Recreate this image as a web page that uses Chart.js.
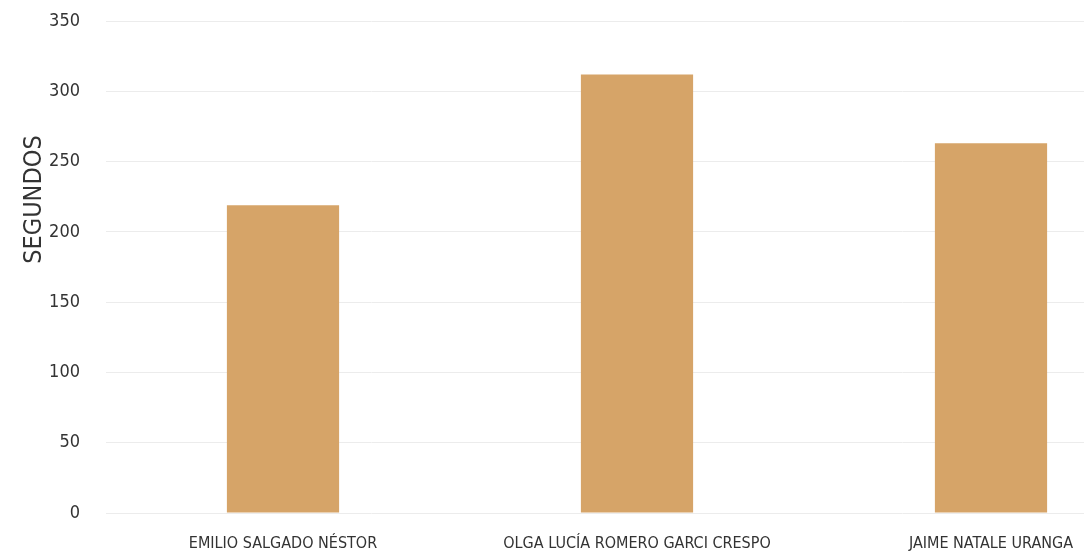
<!DOCTYPE html>
<html>
<head>
<meta charset="utf-8">
<script src="https://cdn.jsdelivr.net/npm/chart.js@4"></script>
<style>
html,body{margin:0;padding:0;background:#fff;overflow:hidden;width:1084px;height:558px;}
canvas{display:block;}
</style>
</head>
<body>
<canvas id="c" width="1170" height="558"></canvas>
<script>
const categories = ["EMILIO SALGADO NÉSTOR", "OLGA LUCÍA ROMERO GARCI CRESPO", "JAIME NATALE URANGA"];
const seconds = [219, 312, 263];
const yTicks = [0, 50, 100, 150, 200, 250, 300, 350];
const yTitle = "SEGUNDOS";

const FONT = "'Liberation Sans Narrow', 'DejaVu Sans Condensed', 'Liberation Sans', sans-serif";

// The reference places the axis title above the axis centre; draw it there.
const offsetTitle = {
  id: 'offsetTitle',
  afterDraw(chart) {
    const ctx = chart.ctx;
    const y = chart.scales.y;
    ctx.save();
    ctx.translate(34, y.getPixelForValue(223));
    ctx.rotate(-Math.PI / 2);
    ctx.font = "25px " + FONT;
    ctx.fillStyle = '#333';
    ctx.textAlign = 'center';
    ctx.textBaseline = 'middle';
    ctx.fillText(yTitle, 0, 0);
    ctx.restore();
  }
};

new Chart(document.getElementById('c'), {
  type: 'bar',
  data: {
    labels: categories,
    datasets: [{
      data: seconds,
      backgroundColor: '#D6A468',
      barPercentage: 0.317,
      categoryPercentage: 1
    }]
  },
  options: {
    responsive: false,
    animation: false,
    layout: { padding: { top: 21, left: 0, right: 2, bottom: 0 } },
    plugins: { legend: { display: false }, tooltip: { enabled: false } },
    scales: {
      x: {
        grid: { display: false, drawTicks: false },
        border: { display: false },
        ticks: { color: '#333', font: { family: FONT, size: 16 }, padding: 21, maxRotation: 0, autoSkip: false },
        afterFit: s => { s.height = 45; s.paddingLeft = 0; s.paddingRight = 0; }
      },
      y: {
        min: 0, max: 350,
        afterBuildTicks: s => { s.ticks = yTicks.map(v => ({ value: v })); },
        grid: { color: '#ececec', drawTicks: false },
        border: { display: false },
        ticks: { color: '#333', font: { family: FONT, size: 18 }, padding: 26 },
        title: { display: false, text: yTitle },
        afterFit: s => { s.width = 106; s.paddingTop = 0; s.paddingBottom = 0; }
      }
    }
  },
  plugins: [offsetTitle]
});
</script>
</body>
</html>
